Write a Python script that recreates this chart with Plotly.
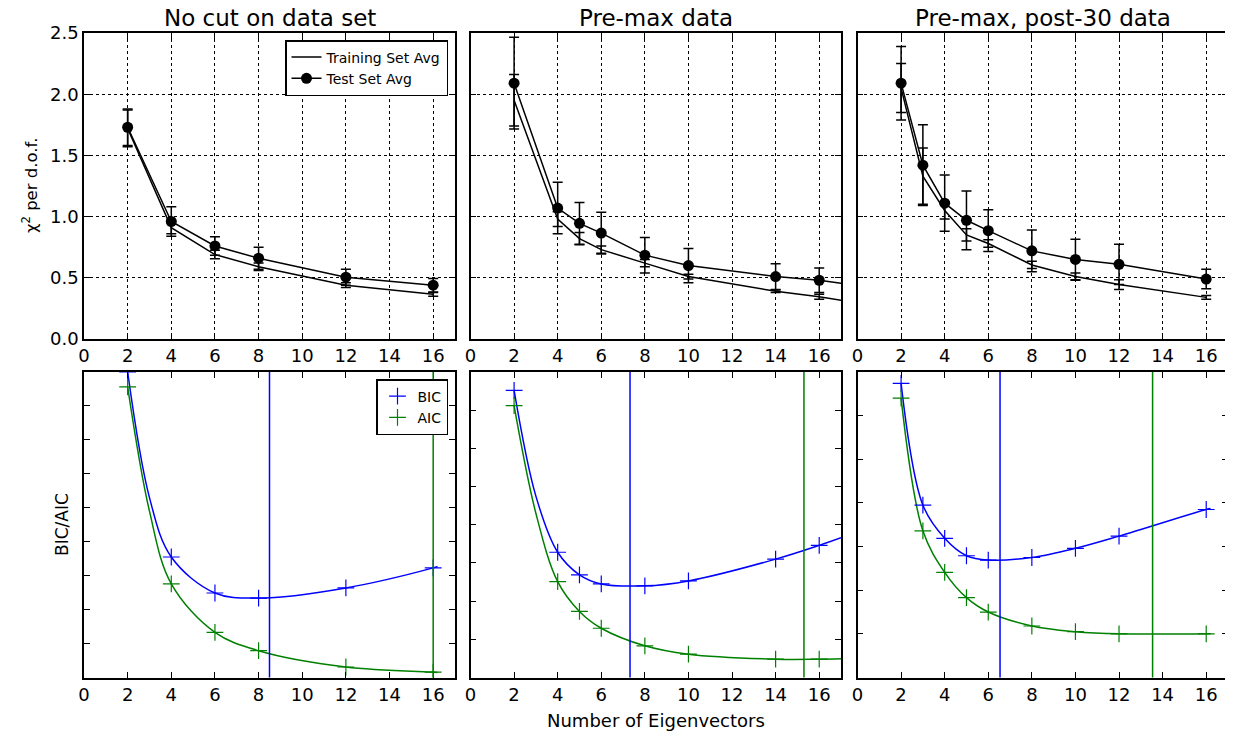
import plotly.graph_objects as go
from plotly.subplots import make_subplots

# ---- top row: chi^2 per d.o.f. ----
titles = ["No cut on data set", "Pre-max data", "Pre-max, post-30 data"]

n_a = [2, 4, 6, 8, 12, 16]
train_a = [1.72, 0.91, 0.69, 0.59, 0.44, 0.365]
train_a_err = [0.15, 0.05, 0.035, 0.03, 0.02, 0.015]
test_a = [1.73, 0.96, 0.76, 0.66, 0.505, 0.44]
test_a_err = [0.15, 0.12, 0.075, 0.09, 0.065, 0.055]

n_b = [2, 4, 5, 6, 8, 10, 14, 16, 18]
train_b = [1.95, 0.98, 0.82, 0.73, 0.62, 0.51, 0.39, 0.345, 0.29]
train_b_err = [0.21, 0.06, 0.05, 0.03, 0.03, 0.02, 0.01, 0.02, 0.02]
test_b = [2.09, 1.07, 0.945, 0.865, 0.685, 0.60, 0.51, 0.48, 0.43]
test_b_err = [0.375, 0.21, 0.17, 0.17, 0.145, 0.14, 0.105, 0.1, 0.1]

n_c = [2, 3, 4, 5, 6, 8, 10, 12, 16]
train_c = [2.05, 1.33, 1.05, 0.85, 0.78, 0.605, 0.51, 0.445, 0.34]
train_c_err = [0.2, 0.23, 0.07, 0.05, 0.03, 0.03, 0.03, 0.04, 0.015]
test_c = [2.09, 1.42, 1.11, 0.97, 0.885, 0.72, 0.65, 0.61, 0.49]
test_c_err = [0.3, 0.33, 0.23, 0.24, 0.17, 0.17, 0.165, 0.165, 0.08]

# ---- bottom row: BIC / AIC (arbitrary units) ----
ic_x_a = [2, 4, 6, 8, 12, 16]
bic_a = [9.0, 3.55, 2.49, 2.34, 2.64, 3.23]
aic_a = [8.56, 2.76, 1.33, 0.79, 0.31, 0.16]
fit_x_a = [2, 3, 4, 6, 8, 12, 16, 16.2]
bic_fit_a = [9.0, 5.3, 3.55, 2.49, 2.34, 2.64, 3.23, 3.27]
aic_fit_a = [8.56, 4.9, 2.76, 1.33, 0.79, 0.31, 0.16, 0.15]

ic_x_b = [2, 4, 5, 6, 8, 10, 14, 16]
bic_b = [7.52, 3.28, 2.69, 2.45, 2.40, 2.53, 3.10, 3.46]
aic_b = [7.12, 2.51, 1.73, 1.29, 0.83, 0.61, 0.48, 0.48]
fit_x_b = [2, 3, 4, 5, 6, 8, 10, 14, 16, 17]
bic_fit_b = [7.52, 4.75, 3.28, 2.69, 2.45, 2.40, 2.53, 3.10, 3.46, 3.66]
aic_fit_b = [7.12, 4.3, 2.51, 1.73, 1.29, 0.83, 0.61, 0.48, 0.48, 0.49]

ic_x_c = [2, 3, 4, 5, 6, 8, 10, 12, 16]
bic_c = [6.74, 3.95, 3.19, 2.79, 2.69, 2.75, 2.96, 3.24, 3.85]
aic_c = [6.40, 3.36, 2.41, 1.83, 1.50, 1.18, 1.05, 1.00, 1.00]
fit_x_c = ic_x_c + [16.2]
bic_fit_c = bic_c + [3.87]
aic_fit_c = aic_c + [1.0]

bic_min = [8.5, 7.32, 6.54]
aic_min = [16.0, 15.3, 13.54]
ic_top = [9, 8, 7]

top_sets = [(n_a, train_a, train_a_err, test_a, test_a_err),
            (n_b, train_b, train_b_err, test_b, test_b_err),
            (n_c, train_c, train_c_err, test_c, test_c_err)]
bot_sets = [(ic_x_a, bic_a, aic_a, fit_x_a, bic_fit_a, aic_fit_a),
            (ic_x_b, bic_b, aic_b, fit_x_b, bic_fit_b, aic_fit_b),
            (ic_x_c, bic_c, aic_c, fit_x_c, bic_fit_c, aic_fit_c)]

BLUE = "#0000ff"
GREEN = "#008000"
# page body has an 8px margin, so the figure is laid out in screen pixels minus 8
OFF = 8
W, H = 1233 - OFF, 736 - OFF


def px(x):
    return (x - OFF) / W


def py(y):
    return 1 - (y - OFF) / H


fig = make_subplots(rows=2, cols=3)

for i, (n, tr, tre, te, tee) in enumerate(top_sets):
    col = i + 1
    fig.add_trace(go.Scatter(
        x=n, y=tr, mode="lines", name="Training Set Avg",
        line=dict(color="black", width=1.5),
        error_y=dict(type="data", array=tre, color="black", thickness=1.5, width=5),
        showlegend=(i == 0), legend="legend"), row=1, col=col)
    fig.add_trace(go.Scatter(
        x=n, y=te, mode="lines+markers", name="Test Set Avg",
        line=dict(color="black", width=1.5),
        marker=dict(color="black", size=11),
        error_y=dict(type="data", array=tee, color="black", thickness=1.5, width=5),
        showlegend=(i == 0), legend="legend"), row=1, col=col)

for i, (x, bic, aic, fx, bfit, afit) in enumerate(bot_sets):
    col = i + 1
    fig.add_trace(go.Scatter(x=fx, y=bfit, mode="lines", line=dict(color=BLUE, width=1.5, shape="spline", smoothing=1.0),
                             showlegend=False), row=2, col=col)
    fig.add_trace(go.Scatter(x=fx, y=afit, mode="lines", line=dict(color=GREEN, width=1.5, shape="spline", smoothing=1.0),
                             showlegend=False), row=2, col=col)
    fig.add_trace(go.Scatter(x=x, y=bic, mode="markers", name="BIC",
                             marker=dict(symbol="cross-thin", size=12, line=dict(color=BLUE, width=1.2)),
                             showlegend=(i == 0), legend="legend2"), row=2, col=col)
    fig.add_trace(go.Scatter(x=x, y=aic, mode="markers", name="AIC",
                             marker=dict(symbol="cross-thin", size=12, line=dict(color=GREEN, width=1.2)),
                             showlegend=(i == 0), legend="legend2"), row=2, col=col)
    fig.add_vline(x=bic_min[i], line=dict(color=BLUE, width=1.5), row=2, col=col)
    fig.add_vline(x=aic_min[i], line=dict(color=GREEN, width=1.5), row=2, col=col)

xdom = [[px(84), px(455)], [px(470.5), px(841)], [px(857.5), px(1228)]]
ydom_top = [py(339), py(33)]
ydom_bot = [py(677.5), py(372)]

axis_common = dict(showline=True, linecolor="black", linewidth=1.5, mirror="allticks",
                   ticks="inside", ticklen=6, tickwidth=1.2, tickcolor="black",
                   tickfont=dict(family="DejaVu Sans", size=18, color="black"),
                   zeroline=False, automargin=False)
grid = dict(showgrid=True, gridcolor="black", gridwidth=1, griddash="dot")

for r in (1, 2):
    for c in (1, 2, 3):
        k = (r - 1) * 3 + c
        xa = "xaxis" if k == 1 else "xaxis%d" % k
        ya = "yaxis" if k == 1 else "yaxis%d" % k
        xopts = dict(axis_common, domain=xdom[c - 1], range=[0, 17], dtick=2, tick0=0)
        if r == 1:
            xopts.update(grid)
            yopts = dict(axis_common, domain=ydom_top, range=[0, 2.5], dtick=0.5, tick0=0,
                         tickformat=".1f", showticklabels=(c == 1))
            yopts.update(grid)
        else:
            xopts.update(showgrid=False)
            yopts = dict(axis_common, domain=ydom_bot, range=[0, ic_top[c - 1]], dtick=1, tick0=0,
                         showticklabels=False, showgrid=False)
        fig.layout[xa].update(xopts)
        fig.layout[ya].update(yopts)

annotations = []
for i, t in enumerate(titles):
    annotations.append(dict(text=t, x=sum(xdom[i]) / 2, y=py(18.5), xref="paper", yref="paper",
                            xanchor="center", yanchor="middle", showarrow=False,
                            font=dict(family="DejaVu Sans", size=23, color="black")))
annotations.append(dict(text="χ<sup>2</sup> per d.o.f.", x=px(30), y=py(186), xref="paper", yref="paper",
                        xanchor="center", yanchor="middle", textangle=-90, showarrow=False,
                        font=dict(family="DejaVu Sans", size=16.5, color="black")))
annotations.append(dict(text="BIC/AIC", x=px(62), y=py(525), xref="paper", yref="paper",
                        xanchor="center", yanchor="middle", textangle=-90, showarrow=False,
                        font=dict(family="DejaVu Sans", size=17, color="black")))
annotations.append(dict(text="Number of Eigenvectors", x=sum(xdom[1]) / 2, y=py(720), xref="paper", yref="paper",
                        xanchor="center", yanchor="middle", showarrow=False,
                        font=dict(family="DejaVu Sans", size=18, color="black")))

legend_style = dict(bgcolor="white", bordercolor="black", borderwidth=1.5,
                    font=dict(family="DejaVu Sans", size=14, color="black"),
                    xanchor="right", yanchor="top", xref="paper", yref="paper",
                    tracegroupgap=0, itemwidth=30)

fig.update_layout(
    width=W, height=H,
    margin=dict(l=0, r=0, t=0, b=0),
    plot_bgcolor="white", paper_bgcolor="white",
    annotations=annotations,
    legend=dict(legend_style, x=px(448), y=py(40)),
    legend2=dict(legend_style, x=px(448), y=py(379)),
)

fig.write_html("out.html")
